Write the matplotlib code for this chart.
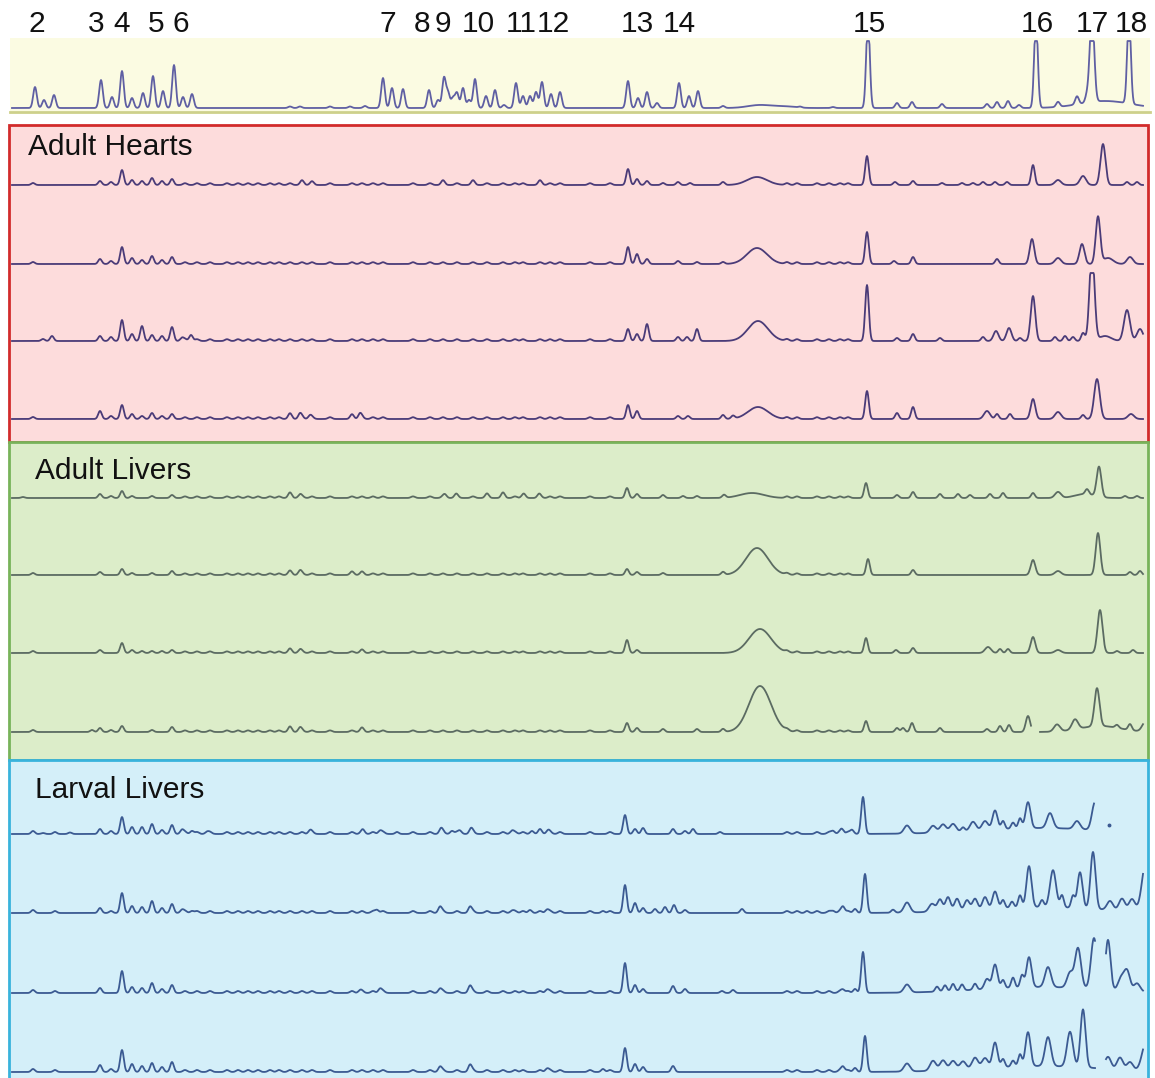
import numpy as np
import matplotlib
matplotlib.use("Agg")
import matplotlib.pyplot as plt
from matplotlib.patches import Rectangle

# peak lists: (retention position, height[, width])
peak_labels = ["2", "3", "4", "5", "6", "7", "8", "9", "10", "11", "12", "13", "14", "15", "16", "17", "18"]
peak_label_pos = [37, 96, 122, 156, 181, 388, 422, 443, 478, 521, 553, 637, 679, 869, 1037, 1092, 1131]

standard = [(35, 21), (44, 8), (54, 13), (101, 28), (112, 11), (122, 37), (132, 10), (143, 15), (153, 32),
            (163, 17), (174, 43), (183, 11), (192, 14), (290, 1.5), (300, 1.5), (330, 1.5), (350, 1.5), (365, 2),
            (383, 30), (392, 20), (403, 19), (429, 18), (438, 8), (444, 30), (448, 15), (453, 10), (457, 15),
            (463, 20), (469, 8), (475, 29), (486, 12), (495, 18), (504, 3), (516, 25), (523, 12), (530, 12),
            (536, 16), (542, 26), (551, 14), (560, 16), (628, 27), (638, 10), (647, 16), (657, 5), (679, 25),
            (689, 12), (698, 17), (723, 2), (800, 1), (833, 1), (868, 90), (897, 5), (912, 6), (942, 4),
            (987, 4), (997, 6), (1008, 7), (1019, 3), (1036, 90), (1058, 5), (1077, 8), (1087, 7),
            (1092, 90, 2.2), (1129, 90)]
standard_broad = [(760, 3, 12), (785, 1.5, 10), (1105, 7, 25)]

heart1 = [(33, 2), (100, 4), (111, 3), (122, 15), (132, 5), (142, 4), (152, 7), (162, 4), (172, 6), (302, 3),
          (312, 2), (443, 3), (473, 3), (540, 3), (628, 16), (637, 6), (647, 4), (663, 2), (678, 3), (690, 2),
          (723, 3), (867, 29), (895, 3), (913, 4), (942, 2), (962, 2), (973, 2), (983, 3), (995, 3), (1007, 3),
          (1033, 20), (1058, 5, 3), (1083, 9, 3), (1103, 41, 2.5), (1127, 3), (1137, 3)]
heart2 = [(33, 2), (100, 5), (111, 3), (122, 17), (132, 6), (142, 4), (152, 8), (162, 4), (172, 7), (628, 17),
          (637, 10), (647, 5), (678, 3), (697, 2), (723, 2), (867, 32), (894, 3), (913, 7), (997, 5),
          (1032, 25, 2.3), (1058, 6, 3), (1082, 20, 2.5), (1098, 47, 2.3), (1108, 6, 5), (1130, 7, 3)]
heart3 = [(43, 2), (52, 5), (100, 5), (111, 4), (122, 21), (132, 7), (142, 15), (152, 6), (162, 5), (172, 14),
          (182, 3), (191, 6), (628, 12), (637, 7), (647, 17), (678, 4), (687, 4), (697, 12), (867, 56),
          (897, 3), (913, 7), (940, 3), (983, 4), (996, 10, 2.5), (1009, 13, 2.5), (1020, 3), (1033, 45, 2.3),
          (1055, 4), (1065, 5), (1073, 4), (1083, 8), (1092, 90, 2.5), (1105, 5, 6), (1127, 31, 3), (1140, 12, 3)]
heart4 = [(33, 2), (100, 8), (111, 3), (122, 14), (132, 5), (142, 3), (152, 6), (162, 3), (172, 5), (290, 4),
          (300, 5), (310, 3), (352, 3), (360, 5), (628, 14), (637, 8), (678, 3), (688, 3), (723, 4), (733, 3),
          (867, 28), (897, 6), (913, 12), (987, 8, 3), (997, 5), (1010, 5), (1033, 20, 2.3), (1058, 7, 3),
          (1083, 4), (1097, 40, 2.8), (1131, 5, 3)]
heart_broad = [[(757, 8, 10)], [(757, 16, 10)], [(758, 20, 10)], [(758, 12, 10)]]

liver1 = [(23, 1), (100, 4), (111, 2), (122, 7), (132, 2), (152, 2), (172, 3), (290, 4), (300, 3), (445, 3),
          (456, 3), (487, 3), (503, 4), (524, 3), (539, 3), (627, 10), (637, 4), (663, 3), (683, 2), (697, 2),
          (724, 3), (866, 15), (897, 3), (913, 6), (940, 4), (958, 4), (970, 3), (990, 4), (1003, 5),
          (1033, 5), (1058, 6, 3), (1087, 5), (1099, 30, 2.3), (1125, 2), (1137, 2)]
liver2 = [(33, 2), (100, 3), (122, 6), (132, 2), (152, 2), (172, 4), (290, 3), (300, 4), (352, 2), (362, 2),
          (627, 6), (637, 3), (663, 2), (723, 3), (868, 16), (913, 5), (1033, 15, 2.3), (1058, 4, 3),
          (1098, 42, 2.3), (1130, 3), (1140, 4)]
liver3 = [(33, 2), (100, 3), (122, 10), (132, 3), (142, 2), (152, 2), (162, 2), (172, 3), (290, 3), (300, 3),
          (362, 2), (627, 13), (637, 3), (866, 15), (896, 3), (913, 5), (988, 6, 3), (1000, 4), (1008, 4),
          (1033, 16, 2.3), (1058, 3, 3), (1100, 43, 2.5), (1117, 2), (1133, 3)]
liver4 = [(33, 2), (92, 2), (100, 4), (111, 2), (122, 6), (152, 2), (172, 5), (290, 4), (300, 4), (362, 3),
          (627, 9), (637, 4), (663, 3), (697, 3), (723, 3), (866, 11), (897, 4), (903, 4), (912, 9), (940, 4),
          (987, 3), (1000, 6), (1009, 7), (1028, 16, 2.2), (1057, 7, 3), (1075, 10, 3), (1097, 38, 2.5),
          (1117, 3), (1130, 6), (1145, 9, 3)]
liver_broad = [[(752, 5, 12), (1085, 4, 10)], [(757, 27, 11)], [(760, 24, 11)], [(760, 46, 11), (1100, 6, 20)]]
liver_gaps = [[], [], [], [(1031, 1040)]]

larva1 = [(33, 3), (43, 1), (55, 2), (70, 1.5), (100, 5), (111, 3), (122, 17), (132, 7), (142, 7), (152, 10),
          (162, 4), (172, 9), (182, 4), (192, 3), (207, 2), (310, 3), (363, 3), (380, 3), (397, 2), (441, 5),
          (452, 3), (460, 3), (471, 5), (512, 3), (532, 3), (540, 3), (548, 3), (625, 19), (635, 5),
          (643, 6), (673, 5), (685, 3), (693, 5), (720, 2), (833, 3), (842, 4), (852, 4), (863, 37),
          (907, 8, 3), (933, 7, 3), (943, 8, 3), (953, 8, 3), (963, 4), (973, 9, 3), (985, 9, 3), (995, 19, 2.5),
          (1003, 8), (1013, 6), (1020, 10), (1028, 26, 2.5), (1050, 15, 3), (1077, 8, 3), (1095, 28, 3)]
larva2 = [(33, 3), (55, 2), (100, 5), (111, 2), (122, 20), (132, 7), (142, 6), (152, 12), (162, 5), (172, 9),
          (182, 3), (192, 2), (377, 3), (440, 6), (470, 6), (512, 2), (530, 3), (547, 3), (603, 2),
          (625, 28), (635, 10), (643, 5), (655, 4), (665, 6), (674, 8), (685, 3), (742, 4), (807, 2), (833, 2),
          (843, 6), (855, 4), (865, 39), (893, 3), (907, 10, 3), (932, 8, 3), (940, 12, 2.5), (948, 14, 2.5),
          (957, 12, 2.5), (967, 10, 2.5), (975, 11, 2.5), (985, 12, 2.5), (995, 17, 2.5), (1003, 8), (1012, 6),
          (1020, 12), (1029, 41, 2.5), (1042, 7), (1053, 37, 3), (1062, 12), (1073, 12), (1080, 36, 2.5),
          (1093, 57, 2.5), (1110, 9, 3), (1122, 12, 3), (1132, 12, 3), (1146, 50, 4)]
larva3 = [(33, 3), (55, 2), (100, 5), (122, 22), (132, 6), (142, 5), (152, 10), (162, 4), (172, 8), (360, 2),
          (380, 4), (440, 4), (470, 7), (547, 3), (625, 30), (635, 8), (643, 4), (673, 7), (685, 4), (722, 2),
          (733, 3), (843, 3), (855, 4), (863, 41), (907, 8, 3), (937, 5), (945, 6), (953, 7), (962, 6),
          (975, 6), (987, 10, 2.5), (995, 24, 2.5), (1003, 8), (1013, 10), (1022, 12), (1029, 30, 2.5),
          (1048, 20, 3), (1070, 15, 3), (1078, 40, 3), (1094, 51, 3), (1108, 50, 2.5), (1121, 12, 3),
          (1127, 20, 3), (1137, 8, 3)]
larva4 = [(33, 3), (55, 2), (100, 7), (111, 3), (122, 22), (132, 8), (142, 6), (152, 9), (162, 5), (172, 10),
          (440, 5), (470, 7), (547, 3), (603, 3), (625, 24), (635, 8), (643, 5), (673, 6), (843, 5), (855, 4),
          (865, 36), (907, 8, 3), (933, 10, 3), (943, 10, 3), (953, 9, 3), (963, 8, 3), (975, 11, 3),
          (985, 10, 3), (995, 25, 2.5), (1003, 8), (1013, 6), (1020, 12), (1028, 34, 2.5), (1048, 29, 3),
          (1070, 35, 3), (1083, 58, 2.5), (1108, 12, 3), (1120, 12, 3), (1130, 8, 3), (1146, 28, 4)]
larva_broad = [(1040, 6, 60)]
larva_gaps = [[(1094, 1200)], [], [(1095, 1106)], [(1095, 1106)]]
larva1_dot = (1109, 9)

# minor ripples seen on every sample trace
ripple_x = [185, 197, 210, 227, 238, 248, 258, 270, 279, 290, 302, 312, 330, 352, 362, 373, 383, 413, 430,
            443, 457, 473, 487, 503, 515, 523, 540, 550, 560, 590, 610, 787, 797, 817, 829, 840, 848]

# layout (pixel canvas)
W, H = 1155, 1078
t = np.arange(12, 1143.5, 0.5)


def build(peaks, broad=(), ripple_h=0.0, clip=None, gaps=()):
    y = np.zeros_like(t)
    for p in peaks:
        w = p[2] if len(p) > 2 else 1.8
        y += p[1] * np.exp(-0.5 * ((t - p[0]) / w) ** 2)
    for pos, h, w in broad:
        y += h * np.exp(-0.5 * ((t - pos) / w) ** 2)
    for pos in ripple_x:
        y += ripple_h * np.exp(-0.5 * ((t - pos) / 2.0) ** 2)
    if clip is not None:
        y = np.minimum(y, clip)
    for a, b in gaps:
        y[(t > a) & (t < b)] = np.nan
    return y


fig = plt.figure(figsize=(W / 100, H / 100), dpi=100)
ax = fig.add_axes([0, 0, 1, 1])
ax.set_xlim(0, W)
ax.set_ylim(H, 0)
ax.axis("off")

font = "Liberation Sans"
lw = 1.3

# standard panel
ax.add_patch(Rectangle((10, 38), 1140, 73, facecolor="#fbfbe2", edgecolor="none", zorder=0))
ax.plot([10, 1150], [112, 112], color="#cdd08a", lw=2, zorder=1)
ax.plot(t, 108 - build(standard, standard_broad, clip=67), color="#5f5fa3", lw=lw, zorder=2)
for lab, xp in zip(peak_labels, peak_label_pos):
    ax.text(xp, 24, lab, ha="center", va="center", fontsize=21.5, family=font, color="#111111")

panels = [
    ("Adult Hearts", 125, 442, "#fddcdc", "#d22b2b", "#4a3b78", 28, 147),
    ("Adult Livers", 442, 760, "#dcedc9", "#78b35a", "#5b6b62", 35, 471),
    ("Larval Livers", 760, 1085, "#d4eff9", "#39b3dc", "#3b5a92", 35, 790),
]
for name, top, bot, fc, ec, _, lx, ly in panels:
    ax.add_patch(Rectangle((9, top), 1139, bot - top, facecolor=fc, edgecolor=ec, lw=2, zorder=0))
    ax.text(lx, ly, name, ha="left", va="center", fontsize=21.5, family=font, color="#111111")

heart_base = [185, 264, 341, 419]
for pk, br, yb, cl in zip([heart1, heart2, heart3, heart4], heart_broad, heart_base, [None, None, 68, None]):
    ax.plot(t, yb - build(pk, br, 1.8, clip=cl), color=panels[0][5], lw=lw, zorder=2)

liver_base = [498, 575, 653, 732]
for pk, br, yb, gp in zip([liver1, liver2, liver3, liver4], liver_broad, liver_base, liver_gaps):
    ax.plot(t, yb - build(pk, br, 1.6, gaps=gp), color=panels[1][5], lw=lw, zorder=2)

larva_base = [834, 913, 993, 1072]
for pk, yb, gp in zip([larva1, larva2, larva3, larva4], larva_base, larva_gaps):
    ax.plot(t, yb - build(pk, larva_broad, 2.0, gaps=gp), color=panels[2][5], lw=lw, zorder=2)
ax.plot(larva1_dot[0], larva_base[0] - larva1_dot[1], "o", ms=1.8, color=panels[2][5], zorder=2)

fig.savefig("out.png", dpi=100)
